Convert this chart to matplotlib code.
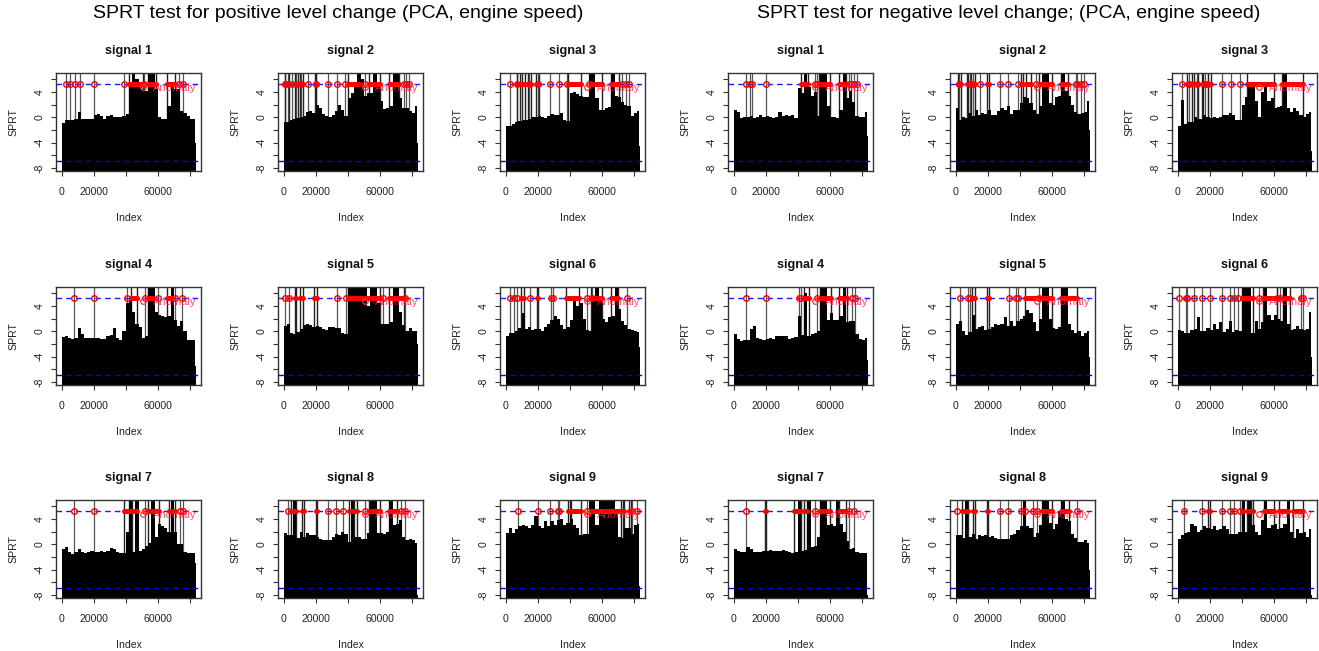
import numpy as np
import matplotlib
matplotlib.use('Agg')
import matplotlib.pyplot as plt

plt.rcParams['font.family'] = ['Liberation Sans', 'DejaVu Sans']

#=============== data, everything (index in thousands) ===============
edges_k = [0, 2, 4, 6, 8, 10, 12, 14, 16, 18, 20, 22, 24, 26, 28, 30, 32, 34, 36, 38, 40, 42,
           44, 46, 48, 50, 52, 54, 56, 58, 60, 62, 64, 66, 68, 70, 72, 74, 76, 78, 80, 82, 83, 84]

# left block, positive level change
pos1_env = [-0.9,-0.4,-0.4,-0.4,-0.3,0.9,-0.2,-0.2,-0.3,-0.3,0.3,0.5,0.2,-0.2,0.2,0.3,0.1,0.1,0,0.2,0.5,4.8,7,6,5,4.5,4.2,7,7,4.5,0.1,-0.2,-0.3,1.7,5,4.5,4.5,1.0,0.6,0.2,-0.2,-0.3,-4]
pos2_env = [-0.8,-0.7,-0.4,-0.2,-0.1,0,0.2,0.8,1.0,0.7,2.0,1.5,0.5,0.2,0,0.4,1.0,2.0,1.2,0.2,3,3.8,5,7,6,3.4,3.8,3.8,7,5,2.5,1.3,1.5,1.8,7,7,3.0,1.5,1.5,1.0,0.7,1.8,-4]
pos3_env = [-1.4,-1.3,-1.0,-0.8,-0.6,-0.5,-0.4,-0.3,0,0,0.2,0,-0.1,0.2,0.5,0.4,0.3,0.6,-0.4,-0.6,3.8,4,3.6,3.4,3.2,3.2,7,7,3.0,1.2,1.1,1.5,1.6,7,3.4,3.2,2.4,2.0,1.8,0.2,0.7,1.0,-4.5]
pos4_env = [-0.9,-0.8,-1.1,-1.2,-1.0,0.5,-0.5,-1.0,-1.1,-1,-1,-1,-1.2,-1.2,-0.8,-0.6,0.5,-1.0,-1.4,0,4.5,5,3,1.2,0.6,-1,-0.8,7,7,3,2.6,2.4,2.2,2.4,7,1.8,0.8,1.6,0,-1.4,-1.3,-1.3,-5.5]
pos5_env = [0.8,1.2,-0.3,-0.4,-0.1,0.4,1.0,1.2,1.0,0.7,0.8,0.6,0.3,0.2,0.7,0.6,0.5,0.5,-0.3,-0.4,7,7,7,7,7,7,4,7,7,4.5,1.2,1.2,1.1,1.5,7,7,3,1,0,0.5,0,0,-2]
pos6_env = [-0.7,-0.2,-0.2,0,0.5,2.8,0.4,0.6,0.2,0.4,0.3,0.1,0.6,1.2,1.8,2.4,2.0,1,0.4,0.7,1.8,5,4,4.5,2,0.2,0.1,5,7,5,2,1.5,2.2,2.4,7,3.5,1.6,1.0,0.4,0.2,0.1,-0.1,-2.5]
pos7_env = [-0.8,-0.5,-1.2,-1.5,-1.2,-0.7,-1.2,-1.4,-1.2,-1,-1.2,-1.2,-1.1,-1.2,-1.1,-0.6,-0.7,-1.2,-1.3,-1.3,2,7,-1.2,7,-1.1,-0.8,-0.3,0.2,7,1.2,3.2,2.8,2.5,2,7,2,0,0,-1.2,-1.3,-1.4,-1.4,-3]
pos8_env = [1.8,1.5,1.4,7,1.0,2,1.2,1.8,1.5,1.4,1.1,0.8,0.7,0.6,0.7,1.2,1.6,1.4,2,1.6,0.4,7,1.2,1.1,0.9,0.8,1.8,7,7,1.8,1.8,1.6,2.0,7,3,3.2,3.8,1.2,0.6,0.8,0.6,0.2,-8]
pos9_env = [1.7,2.5,1.8,2.4,2.8,3,2.8,2.6,3,4.4,2.8,2.6,3.6,2.8,3.6,3,3.8,4,3,3.4,4,3,2.6,1.4,1.6,1.6,7,7,3,7,7,7,7,7,5,1.2,1.0,2.6,2.6,1.6,3,3.2,-6.5]

pos1_pts = [2.5, 5.5, 8.2, 11.3, 20, 39, 51.5, 73, 75.5]
pos2_pts = [1, 3, 5.5, 8, 11, 15, 20, 27.5, 33.5, 38.5, 50.5, 75, 76.5, 78]
pos3_pts = [3, 7, 14.5, 20, 28, 33.5, 38.5, 52, 72.5, 75, 77]
pos4_pts = [8, 20, 41, 52, 60, 71, 75]
pos5_pts = [1, 3.5, 33.5, 39, 62, 76]
pos6_pts = [2.5, 5.5, 7, 15, 28.5, 29.5, 51, 54, 76]
pos7_pts = [8, 20, 52, 74, 76]
pos8_pts = [2.5, 28, 33, 37, 51, 73, 76]
pos9_pts = [8, 20, 28, 32.5, 33.5, 51, 79, 82]

pos1_runs = [(42, 50.5), (54, 59), (66, 71)]
pos2_runs = [(1, 3.5), (7, 9), (10, 12), (19.5, 20.5), (40, 47), (53, 60), (66, 72)]
pos3_runs = [(7, 9), (10.5, 12), (14, 16), (19, 21), (39, 47), (53, 60), (66, 71)]
pos4_runs = [(43, 47), (54, 57), (66, 69)]
pos5_runs = [(7, 8), (10, 12), (19, 21), (40, 60), (66, 75)]
pos6_runs = [(9.5, 11.5), (19.5, 20.5), (38, 46), (53, 60), (66, 70)]
pos7_runs = [(39, 42), (44, 47), (54, 61), (67, 71)]
pos8_runs = [(4.5, 8), (11.5, 12.5), (20, 21), (41, 43), (44, 46), (53, 60), (66, 71)]
pos9_runs = [(39, 40), (41, 47), (53, 72), (73, 74), (77, 78)]

# right block, negative level change
neg1_env = [1.2,0.9,-0.1,0,0,0.2,-0.1,0,0.3,0,0.2,0.1,-0.1,0,0.8,0.2,0.3,0.2,0.3,-0.1,4.6,3.8,7,4.8,3.4,4,0.2,7,7,1.8,0,0,-0.1,1.2,7,3,4.2,2.4,0.2,0,0,0.8,-3]
neg2_env = [1.4,-0.5,0.1,-0.1,0.6,0.2,1.2,0.4,0.6,0.5,1.2,0.4,0.3,1,1.4,1.2,1.8,0.5,1.2,1.2,2.2,3.2,3,2.2,1.2,0.5,1.8,7,7,2.2,2,3.2,3.4,7,4.2,3.4,2,0.8,0.5,0.6,0.8,2.6,-2]
neg3_env = [-1.3,2.7,-1,-0.8,-0.7,0,-0.3,-0.2,0.3,0,-0.1,0,-0.1,0.1,0.3,0.4,0.7,0.4,-0.4,-0.4,2,3.2,5,4.8,2.6,0,4,5.2,2.6,3,1.4,1.6,1.8,7,1.4,0.8,1.4,1,0.4,0.1,0.5,0.8,-5.3]
neg4_env = [-0.4,-1.2,-1.5,-1.4,-1.3,0.3,0.8,-1,-1.2,-1.3,-1.2,-1.1,-1.2,-0.8,-0.8,-0.7,-0.8,-1.2,-1.1,-0.9,2.4,-0.6,6,-0.7,-0.4,-0.3,0,7,7,1.8,2.8,1.8,1.8,2.4,7,1.5,1.6,1.6,-0.5,-1.2,-1.4,-1,-4.5]
neg5_env = [1.1,1.6,0,-0.6,-0.1,2.6,0.3,0.6,0.8,0.2,0.4,0.6,1.1,1,1.2,2.2,0.8,1.6,0.8,1.6,2,2.4,3.4,2.8,1.5,0.1,2,7,7,2,0.5,0.4,0.6,7,7,1.2,0.2,-0.3,0,-0.7,-0.3,0,-4]
neg6_env = [0.2,0,-0.3,-0.2,0.2,0.4,2.2,0,0.1,0.5,0.2,1.2,0.3,1.4,-0.1,0.3,1.6,-0.1,0.2,0,7,7,7,-0.2,1.6,0.4,1.4,7,2.6,1.8,2.6,2.0,1.6,7,1.2,0.2,0.4,0.8,0.3,0.2,0.3,3,-4]
neg7_env = [-0.8,-1,-1.2,-1.2,-0.5,-0.8,-1.2,-1.2,-1.2,-1,-1.1,-0.9,-1,-1,-1.1,-0.9,-1,-1.2,-1.3,-1.2,7,-1.1,-0.9,7,-0.4,-0.3,1.2,7,7,3,3.2,2.8,7,3.2,2,0.5,-0.8,-0.6,-1.2,-1.4,-1.4,-1.4,-8]
neg8_env = [1.5,1.5,1,7,1.2,1.6,0.9,1.4,1.3,1.4,1.1,1.3,1,0.8,0.9,0.9,0.9,1.5,1.6,2.2,2.8,7,2.8,2.6,1.2,1.8,3,7,7,3.4,2.4,3.2,5,7,4,3.6,1.6,1,0.3,0.4,0.6,0.2,-4]
neg9_env = [0.8,1.5,1.8,2,3.2,2.8,2,2.2,2.8,2.6,2.4,2.8,2.2,2.4,2.8,2.4,1.6,1.6,1.6,2,7,2,7,3,2,1.4,3.8,7,2.6,3,3.2,2.4,2.6,3.2,7,2,1,2.4,1.8,2,1.2,2.4,-8]

neg1_pts = [8, 10, 11.5, 20, 51, 52, 72, 73, 75, 77]
neg2_pts = [2, 9, 11, 15, 27.5, 33, 39, 50, 75, 76, 78, 80]
neg3_pts = [3, 7, 12, 17, 19, 28, 33.5, 39]
neg4_pts = [8, 20, 41, 42, 52, 74, 76]
neg5_pts = [2.5, 8, 9, 33.5, 38, 39, 52]
neg6_pts = [1, 5, 6, 10.5, 15, 20, 27.5, 33, 35, 37.5, 51, 62, 64, 77, 78]
neg7_pts = [8, 51, 72, 75]
neg8_pts = [1, 28, 33, 41, 43, 48, 51, 76]
neg9_pts = [4, 15, 28, 33, 35, 39]

neg1_runs = [(42, 46.5), (53, 60), (66, 70)]
neg2_runs = [(1.5, 3.5), (7, 8), (9.5, 12), (19.5, 21), (41, 42), (44, 47), (52, 60), (66, 70)]
neg3_runs = [(6, 9), (10, 13), (15, 16), (19, 21), (43, 60), (65, 78)]
neg4_runs = [(44, 47), (54, 61), (66, 71)]
neg5_runs = [(10, 12), (19.5, 21), (43, 60), (66, 76)]
neg6_runs = [(40, 47), (53, 62), (66, 70)]
neg7_runs = [(19.5, 20.5), (38, 42), (44, 46), (54, 60), (66, 70)]
neg8_runs = [(4, 8), (11, 12), (19.5, 20.5), (54, 60), (66, 71)]
neg9_runs = [(19, 20), (40, 41), (43, 45), (45.5, 47), (54, 60), (63, 69), (72, 78)]

upper_limit = 5.3
lower_limit = -6.9
lone_point = (51, 4.8)
titles = ['signal %d' % i for i in range(1, 10)]
block_titles = ['SPRT test for positive level change (PCA, engine speed)',
                'SPRT test for negative level change; (PCA, engine speed)']
x_ticks = [0, 20000, 40000, 60000, 80000]
x_tick_labels = ['0', '20000', '', '60000', '']
y_ticks = [-8, -6, -4, -2, 0, 2, 4, 6]
y_tick_labels = ['-8', '', '-4', '', '0', '', '4', '']

pos_env = [pos1_env, pos2_env, pos3_env, pos4_env, pos5_env, pos6_env, pos7_env, pos8_env, pos9_env]
pos_pts = [pos1_pts, pos2_pts, pos3_pts, pos4_pts, pos5_pts, pos6_pts, pos7_pts, pos8_pts, pos9_pts]
pos_runs = [pos1_runs, pos2_runs, pos3_runs, pos4_runs, pos5_runs, pos6_runs, pos7_runs, pos8_runs, pos9_runs]
neg_env = [neg1_env, neg2_env, neg3_env, neg4_env, neg5_env, neg6_env, neg7_env, neg8_env, neg9_env]
neg_pts = [neg1_pts, neg2_pts, neg3_pts, neg4_pts, neg5_pts, neg6_pts, neg7_pts, neg8_pts, neg9_pts]
neg_runs = [neg1_runs, neg2_runs, neg3_runs, neg4_runs, neg5_runs, neg6_runs, neg7_runs, neg8_runs, neg9_runs]

#=============== layout in pixels ===============
W, H = 1319, 651
col_left = [[56, 278, 500], [728, 950, 1172]]
row_top = [73, 287, 500]
ax_w, ax_h = 145, 98
edges = np.array(edges_k) * 1000.


def draw_panel(ax, env, pts, runs, title):
    bottom = -9
    top = 8
    # spikes sit behind the black block, they only show above it
    spike_x = [p * 1000. for p in pts]
    ax.vlines(spike_x, bottom, top, color='#555555', lw=0.9, zorder=1)
    for a, b in runs:
        ax.vlines([a * 1000., b * 1000.], bottom, top, color='#222222', lw=1.0, zorder=1)
    ax.stairs(env, edges, baseline=bottom, fill=True, color='black', lw=0, zorder=2)
    ax.axhline(upper_limit, color='#1a1aff', lw=1.0, dashes=(4, 3), zorder=3)
    ax.axhline(lower_limit, color='#0000e0', lw=1.0, dashes=(4, 3), zorder=3)
    for a, b in runs:
        ax.plot([a * 1000., b * 1000.], [upper_limit, upper_limit], color='red', lw=3.6,
                solid_capstyle='round', zorder=4)
    ax.plot(spike_x, [upper_limit] * len(pts), 'o', mfc='none', mec='red', ms=4.0, mew=1.0, zorder=4)
    ax.plot([lone_point[0] * 1000.], [lone_point[1]], 'o', mfc='none', mec='#ff3030', ms=4.0, mew=0.9, zorder=4)
    ax.text(70800, 4.65, 'Anomaly', color='#ff2040', alpha=0.8, fontsize=8, ha='center', va='center', zorder=5)

    ax.set_xlim(-3560, 87060)
    ax.set_ylim(-8.45, 6.95)
    ax.set_xticks(x_ticks)
    ax.set_xticklabels(x_tick_labels)
    ax.set_yticks(y_ticks)
    ax.set_yticklabels(y_tick_labels, rotation=90, va='center')
    ax.tick_params(length=3.8, width=0.8, labelsize=7.6, color='#333333', labelcolor='#222222')
    ax.tick_params(axis='x', pad=8)
    ax.tick_params(axis='y', pad=4.5)
    ax.set_xlabel('Index', fontsize=7.6, color='#1a2233', labelpad=11)
    ax.set_ylabel('SPRT', fontsize=7.6, color='#222222', labelpad=11.5)
    ax.set_title(title, fontsize=9.1, fontweight='bold', color='#111111', pad=14)
    for s in ax.spines.values():
        s.set_linewidth(1.0)
        s.set_color('#333333')


fig = plt.figure(figsize=(W / 100., H / 100.), dpi=100, facecolor='white')

for block, (envs, ptss, runss) in enumerate([(pos_env, pos_pts, pos_runs), (neg_env, neg_pts, neg_runs)]):
    for i in range(9):
        r, c = i // 3, i % 3
        ax = fig.add_axes([col_left[block][c] / W, 1 - (row_top[r] + ax_h) / H, ax_w / W, ax_h / H])
        draw_panel(ax, envs[i], ptss[i], runss[i], titles[i])

fig.text(338 / W, 1 - 14 / H, block_titles[0], fontsize=14, ha='center', va='center', color='black')
fig.text(1009 / W, 1 - 14 / H, block_titles[1], fontsize=14, ha='center', va='center', color='black')

fig.savefig('out.png', dpi=100)
